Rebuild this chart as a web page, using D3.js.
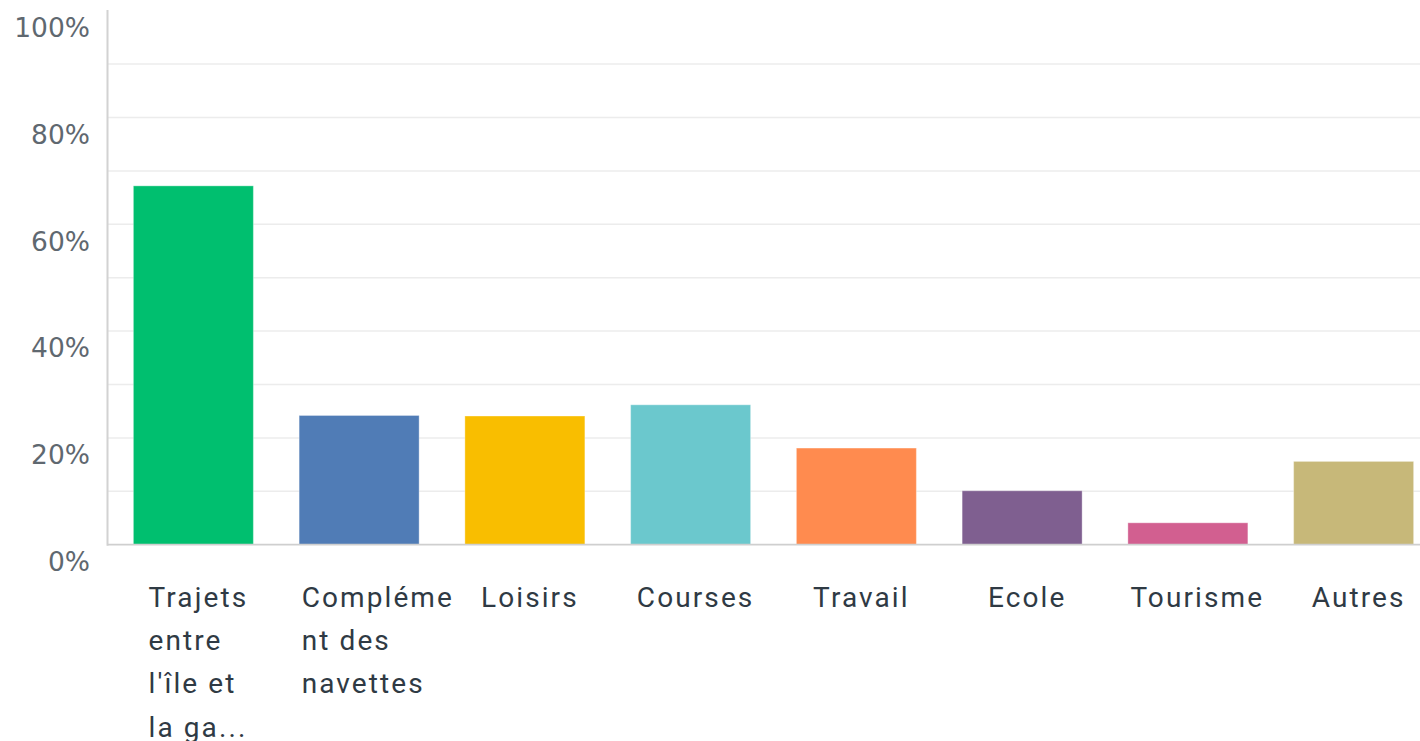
<!DOCTYPE html>
<html>
<head>
<meta charset="utf-8">
<script src="https://cdn.jsdelivr.net/npm/d3@7"></script>
<style>
  html, body { margin: 0; padding: 0; background: #fff; }
  svg { display: block; }
</style>
</head>
<body>
<svg id="chart" width="1420" height="741"></svg>
<script>
// ---- data ----
const categories = ["Trajets entre l'île et la ga...", "Complément des navettes", "Loisirs", "Courses", "Travail", "Ecole", "Tourisme", "Autres"];
const labelLines = [
  ["Trajets", "entre", "l'île et", "la ga..."],
  ["Compléme", "nt des", "navettes"],
  ["Loisirs"],
  ["Courses"],
  ["Travail"],
  ["Ecole"],
  ["Tourisme"],
  ["Autres"]
];
const values = [67.2, 24.2, 24.1, 26.2, 18.1, 10.1, 4.1, 15.6];
const colors = ["#00BF6F", "#507CB6", "#F9BE00", "#6BC8CD", "#FF8B4F", "#7F5F90", "#D25F90", "#C7B879"];
const yTicks = [0, 20, 40, 60, 80, 100];
const gridTicks = [10, 20, 30, 40, 50, 60, 70, 80, 90];

// ---- layout ----
const svg = d3.select("#chart");
const axisX = 107.5;
const y = d3.scaleLinear().domain([0, 100]).range([544.7, 10.7]);
const x = d3.scaleBand().domain(categories).range([110.5, 1436.5]).paddingInner(0.276).paddingOuter(0.138);

// gridlines
svg.append("g").selectAll("line").data(gridTicks).join("line")
  .attr("x1", axisX).attr("x2", 1420)
  .attr("y1", d => y(d)).attr("y2", d => y(d))
  .attr("stroke", "#ececec").attr("stroke-width", 1.5);

// bars
svg.append("g").selectAll("rect").data(categories).join("rect")
  .attr("x", d => x(d))
  .attr("width", x.bandwidth())
  .attr("y", (d, i) => y(values[i]))
  .attr("height", (d, i) => y(0) - y(values[i]))
  .attr("fill", (d, i) => colors[i])
  .attr("stroke", "rgba(255,255,255,0.35)")
  .attr("stroke-width", 1);

// left axis line
svg.append("line")
  .attr("x1", axisX).attr("x2", axisX)
  .attr("y1", 10).attr("y2", y(0) + 1)
  .attr("stroke", "#d2d2d2").attr("stroke-width", 2);

// baseline
svg.append("line")
  .attr("x1", axisX).attr("x2", 1420)
  .attr("y1", y(0)).attr("y2", y(0))
  .attr("stroke", "#cfcfcf").attr("stroke-width", 1.8);

// y tick labels
svg.append("g").selectAll("text").data(yTicks).join("text")
  .attr("x", 90)
  .attr("y", d => y(d) + 17)
  .attr("dy", "0.35em")
  .attr("text-anchor", "end")
  .attr("font-family", "'DejaVu Sans', sans-serif")
  .attr("font-size", 26.5)
  .attr("fill", "#5f6870")
  .text(d => d + "%");

// x labels
const maxBox = 125;
const xl = svg.append("g");
categories.forEach((c, i) => {
  const g = xl.append("g");
  const texts = labelLines[i].map((ln, k) =>
    g.append("text")
      .attr("y", 606.7 + k * 43.3)
      .attr("font-family", "Roboto, 'Open Sans', sans-serif")
      .attr("font-size", 28)
      .attr("letter-spacing", "2.1px")
      .attr("fill", "#2f3a44")
      .text(ln)
  );
  const widths = texts.map(t => t.node().getComputedTextLength());
  const w = Math.min(d3.max(widths), maxBox);
  const cx = x(c) + x.bandwidth() / 2 + 5;
  const left = cx - w / 2;
  texts.forEach(t => t.attr("x", left));
});
</script>
</body>
</html>
